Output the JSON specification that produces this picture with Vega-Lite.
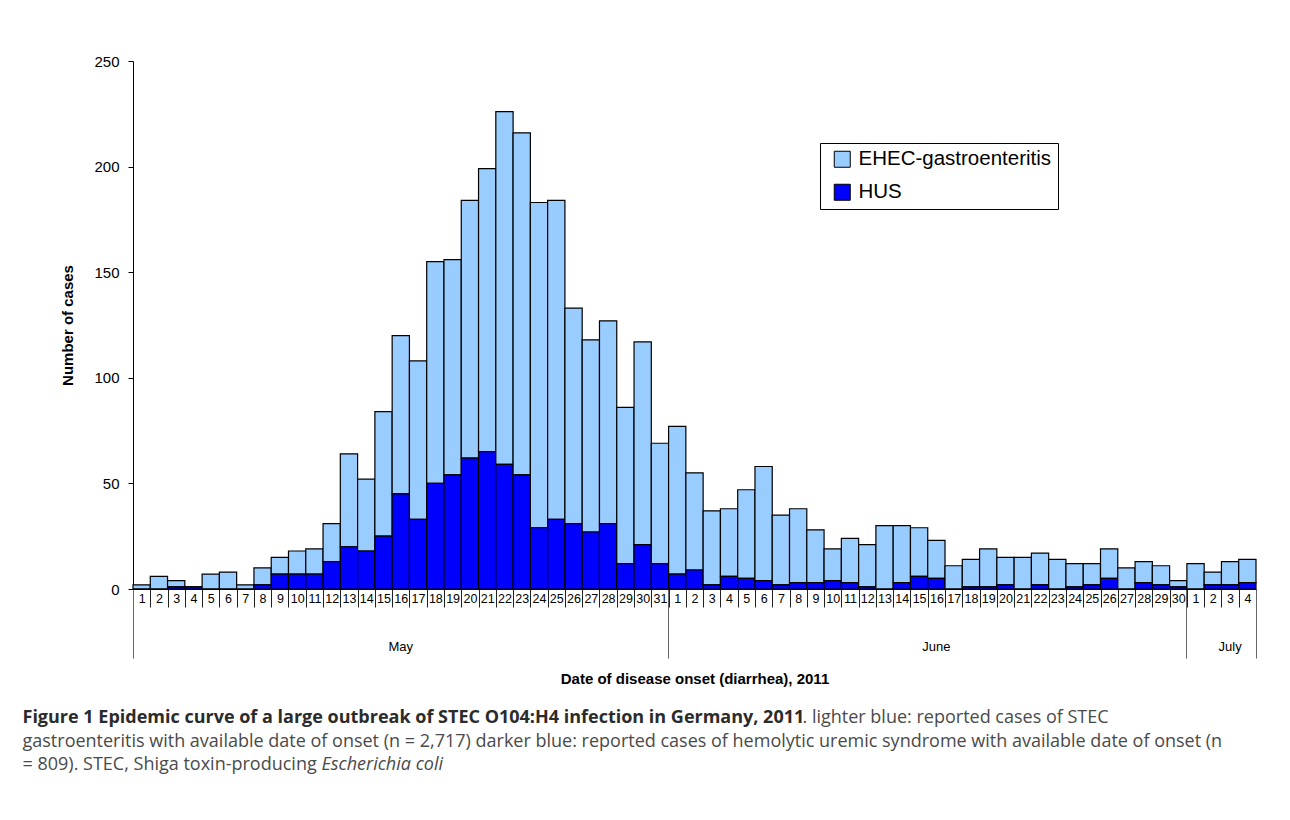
{
 "$schema": "https://vega.github.io/schema/vega-lite/v6.json",
 "width": 1123, "height": 528,
 "autosize": {"type": "none"},
 "padding": {"left": 133, "top": 61, "right": 34, "bottom": 231},
 "background": "white",
 "data": {"values": [
  {"date":"5-1","EHEC-gastroenteritis":2,"HUS":0},
  {"date":"5-2","EHEC-gastroenteritis":6,"HUS":0},
  {"date":"5-3","EHEC-gastroenteritis":3,"HUS":1},
  {"date":"5-4","EHEC-gastroenteritis":0,"HUS":1},
  {"date":"5-5","EHEC-gastroenteritis":7,"HUS":0},
  {"date":"5-6","EHEC-gastroenteritis":8,"HUS":0},
  {"date":"5-7","EHEC-gastroenteritis":2,"HUS":0},
  {"date":"5-8","EHEC-gastroenteritis":8,"HUS":2},
  {"date":"5-9","EHEC-gastroenteritis":8,"HUS":7},
  {"date":"5-10","EHEC-gastroenteritis":11,"HUS":7},
  {"date":"5-11","EHEC-gastroenteritis":12,"HUS":7},
  {"date":"5-12","EHEC-gastroenteritis":18,"HUS":13},
  {"date":"5-13","EHEC-gastroenteritis":44,"HUS":20},
  {"date":"5-14","EHEC-gastroenteritis":34,"HUS":18},
  {"date":"5-15","EHEC-gastroenteritis":59,"HUS":25},
  {"date":"5-16","EHEC-gastroenteritis":75,"HUS":45},
  {"date":"5-17","EHEC-gastroenteritis":75,"HUS":33},
  {"date":"5-18","EHEC-gastroenteritis":105,"HUS":50},
  {"date":"5-19","EHEC-gastroenteritis":102,"HUS":54},
  {"date":"5-20","EHEC-gastroenteritis":122,"HUS":62},
  {"date":"5-21","EHEC-gastroenteritis":134,"HUS":65},
  {"date":"5-22","EHEC-gastroenteritis":167,"HUS":59},
  {"date":"5-23","EHEC-gastroenteritis":162,"HUS":54},
  {"date":"5-24","EHEC-gastroenteritis":154,"HUS":29},
  {"date":"5-25","EHEC-gastroenteritis":151,"HUS":33},
  {"date":"5-26","EHEC-gastroenteritis":102,"HUS":31},
  {"date":"5-27","EHEC-gastroenteritis":91,"HUS":27},
  {"date":"5-28","EHEC-gastroenteritis":96,"HUS":31},
  {"date":"5-29","EHEC-gastroenteritis":74,"HUS":12},
  {"date":"5-30","EHEC-gastroenteritis":96,"HUS":21},
  {"date":"5-31","EHEC-gastroenteritis":57,"HUS":12},
  {"date":"6-1","EHEC-gastroenteritis":70,"HUS":7},
  {"date":"6-2","EHEC-gastroenteritis":46,"HUS":9},
  {"date":"6-3","EHEC-gastroenteritis":35,"HUS":2},
  {"date":"6-4","EHEC-gastroenteritis":32,"HUS":6},
  {"date":"6-5","EHEC-gastroenteritis":42,"HUS":5},
  {"date":"6-6","EHEC-gastroenteritis":54,"HUS":4},
  {"date":"6-7","EHEC-gastroenteritis":33,"HUS":2},
  {"date":"6-8","EHEC-gastroenteritis":35,"HUS":3},
  {"date":"6-9","EHEC-gastroenteritis":25,"HUS":3},
  {"date":"6-10","EHEC-gastroenteritis":15,"HUS":4},
  {"date":"6-11","EHEC-gastroenteritis":21,"HUS":3},
  {"date":"6-12","EHEC-gastroenteritis":20,"HUS":1},
  {"date":"6-13","EHEC-gastroenteritis":30,"HUS":0},
  {"date":"6-14","EHEC-gastroenteritis":27,"HUS":3},
  {"date":"6-15","EHEC-gastroenteritis":23,"HUS":6},
  {"date":"6-16","EHEC-gastroenteritis":18,"HUS":5},
  {"date":"6-17","EHEC-gastroenteritis":11,"HUS":0},
  {"date":"6-18","EHEC-gastroenteritis":13,"HUS":1},
  {"date":"6-19","EHEC-gastroenteritis":18,"HUS":1},
  {"date":"6-20","EHEC-gastroenteritis":13,"HUS":2},
  {"date":"6-21","EHEC-gastroenteritis":15,"HUS":0},
  {"date":"6-22","EHEC-gastroenteritis":15,"HUS":2},
  {"date":"6-23","EHEC-gastroenteritis":14,"HUS":0},
  {"date":"6-24","EHEC-gastroenteritis":11,"HUS":1},
  {"date":"6-25","EHEC-gastroenteritis":10,"HUS":2},
  {"date":"6-26","EHEC-gastroenteritis":14,"HUS":5},
  {"date":"6-27","EHEC-gastroenteritis":10,"HUS":0},
  {"date":"6-28","EHEC-gastroenteritis":10,"HUS":3},
  {"date":"6-29","EHEC-gastroenteritis":9,"HUS":2},
  {"date":"6-30","EHEC-gastroenteritis":3,"HUS":1},
  {"date":"7-1","EHEC-gastroenteritis":12,"HUS":0},
  {"date":"7-2","EHEC-gastroenteritis":6,"HUS":2},
  {"date":"7-3","EHEC-gastroenteritis":11,"HUS":2},
  {"date":"7-4","EHEC-gastroenteritis":11,"HUS":3}
 ]},
 "transform": [{"fold": ["EHEC-gastroenteritis", "HUS"], "as": ["series", "cases"]}],
 "layer": [
  {
   "mark": {"type": "bar", "stroke": "black", "strokeWidth": 1.2},
   "encoding": {
    "x": {"field": "date", "type": "ordinal", "sort": null,
     "scale": {"paddingInner": 0, "paddingOuter": 0},
     "axis": {"orient": "bottom", "title": null, "labelExpr": "split(datum.value, '-')[1]", "tickBand": "extent",
      "tickSize": 18, "labelPadding": -9, "labelBaseline": "middle", "labelAngle": 0,
      "labelFontSize": 12.5, "labelOverlap": false, "tickColor": "#222"}},
    "y": {"field": "cases", "type": "quantitative", "stack": "zero",
     "scale": {"domain": [0, 250], "nice": false},
     "axis": {"values": [0, 50, 100, 150, 200, 250], "title": "Number of cases",
      "titleFontSize": 15, "titleFontWeight": "bold", "titlePadding": 18,
      "labelFontSize": 15, "tickSize": 5, "labelPadding": 9}},
    "color": {"field": "series", "type": "nominal",
     "scale": {"domain": ["EHEC-gastroenteritis", "HUS"], "range": ["#99CCFF", "#0000FF"]},
     "legend": {"title": null, "orient": "none", "legendX": 687, "legendY": 82,
      "strokeColor": "black", "fillColor": "white", "padding": 6,
      "symbolType": "square", "symbolSize": 256, "symbolStrokeColor": "black",
      "symbolStrokeWidth": 1, "symbolOpacity": 1, "symbolOffset": 6,
      "labelFont": "Liberation Sans", "labelFontSize": 20.5, "labelColor": "black",
      "labelLimit": 400, "rowPadding": 12, "labelOffset": 6}},
    "order": {"field": "series", "sort": "descending"}
   }
  },
  {
   "mark": {"type": "rule", "opacity": 0},
   "encoding": {
    "x": {"field": "date", "type": "ordinal", "sort": null,
     "axis": {"orient": "bottom", "values": ["5-1", "6-1", "7-1"], "bandPosition": 0, "tickSize": 69,
      "labels": false, "domain": false, "tickColor": "#666",
      "title": ["gastroenteritis with available date of onset (n = 2,717) darker blue: reported cases of hemolytic uremic syndrome with available date of onset (n", "= 809). STEC, Shiga toxin-producing"],
      "titleX": -111, "titleY": 157, "titleAlign": "left", "titleBaseline": "alphabetic",
      "titleLineHeight": 23, "titleFont": "Open Sans", "titleFontSize": 18,
      "titleFontWeight": "normal", "titleColor": "#4a4a4a"}}
   }
  },
  {
   "mark": {"type": "rule", "opacity": 0},
   "encoding": {
    "x": {"field": "date", "type": "ordinal", "sort": null,
     "axis": {"orient": "bottom", "values": ["7-4"], "bandPosition": 1, "tickSize": 69,
      "labels": false, "domain": false, "tickColor": "#666",
      "title": "Figure 1 Epidemic curve of a large outbreak of STEC O104:H4 infection in Germany, 2011",
      "titleX": -111, "titleY": 133, "titleAlign": "left", "titleBaseline": "alphabetic",
      "titleFont": "Open Sans", "titleFontSize": 18,
      "titleFontWeight": "bold", "titleColor": "#2b2b2b"}}
   }
  },
  {
   "mark": {"type": "rule", "opacity": 0},
   "encoding": {
    "x": {"field": "date", "type": "ordinal", "sort": null,
     "axis": {"orient": "bottom", "values": ["5-16"], "ticks": false, "tickSize": 0, "domain": false,
      "labelExpr": "'May'", "labelPadding": 57, "labelBaseline": "middle", "labelAngle": 0,
      "labelFontSize": 13,
      "title": "Date of disease onset (diarrhea), 2011", "titleFontSize": 15,
      "titleFontWeight": "bold", "titleY": 89, "titleBaseline": "middle"}}
   }
  },
  {
   "mark": {"type": "rule", "opacity": 0},
   "encoding": {
    "x": {"field": "date", "type": "ordinal", "sort": null,
     "axis": {"orient": "bottom", "values": ["6-16", "7-3"], "bandPosition": 0, "ticks": false, "tickSize": 0,
      "domain": false, "labelExpr": "datum.value == '6-16' ? 'June' : 'July'",
      "labelPadding": 57, "labelBaseline": "middle", "labelAngle": 0, "labelFontSize": 13,
      "title": ". lighter blue: reported cases of STEC",
      "titleX": 669, "titleY": 133, "titleAlign": "left", "titleBaseline": "alphabetic",
      "titleFont": "Open Sans", "titleFontSize": 18,
      "titleFontWeight": "normal", "titleColor": "#4a4a4a"}}
   }
  },
  {
   "mark": {"type": "rule", "opacity": 0},
   "encoding": {
    "x": {"field": "date", "type": "ordinal", "sort": null,
     "axis": {"orient": "bottom", "values": ["5-1"], "ticks": false, "labels": false, "domain": false,
      "title": "Escherichia coli",
      "titleX": 188, "titleY": 180, "titleAlign": "left", "titleBaseline": "alphabetic",
      "titleFont": "Open Sans", "titleFontSize": 18, "titleFontStyle": "italic",
      "titleFontWeight": "normal", "titleColor": "#4a4a4a"}}
   }
  }
 ],
 "resolve": {"axis": {"x": "independent"}},
 "config": {
  "view": {"stroke": null},
  "axis": {"grid": false, "labelFont": "Liberation Sans", "titleFont": "Liberation Sans",
   "labelColor": "black", "titleColor": "black", "tickColor": "black", "domainColor": "black"}
 }
}
